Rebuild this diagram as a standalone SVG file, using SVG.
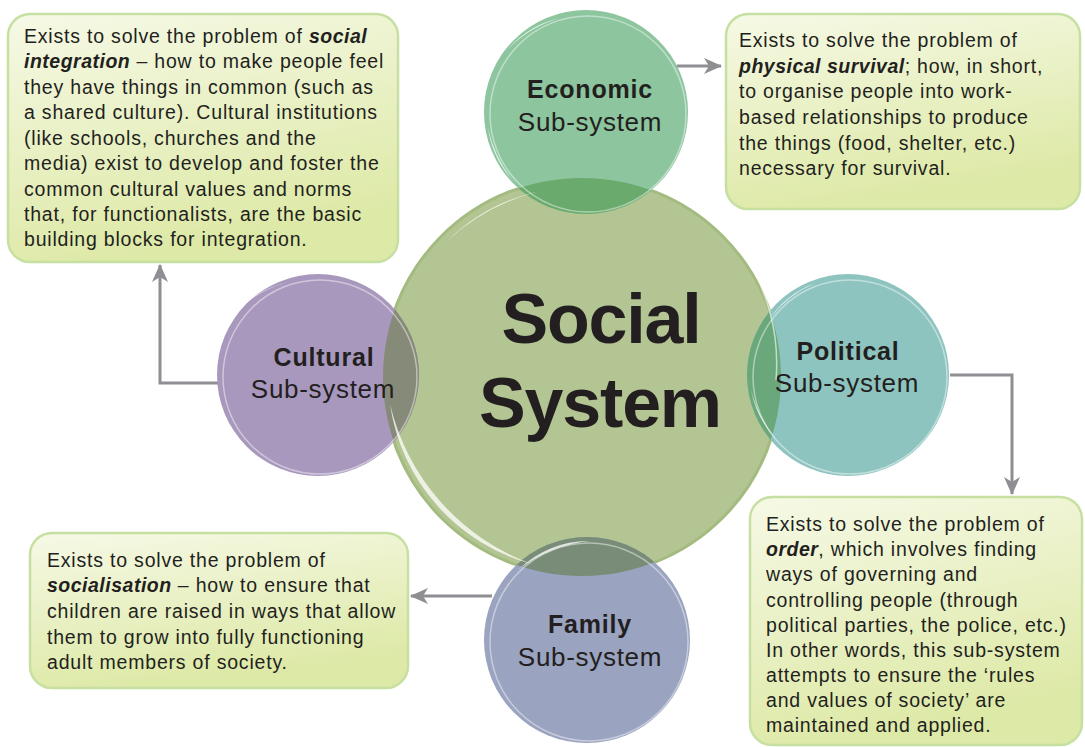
<svg xmlns="http://www.w3.org/2000/svg" width="1085" height="747" viewBox="0 0 1085 747">
<defs>
<style>
.box{stroke:#c6e0a2;stroke-width:2.5;fill:url(#bg)}
.t{font-family:"Liberation Sans",Arial,sans-serif;font-size:19.5px;letter-spacing:0.8px;fill:#231f20}
.bi{font-weight:bold;font-style:italic;letter-spacing:0.5px}
.lb{font-family:"Liberation Sans",Arial,sans-serif;font-size:25px;font-weight:bold;fill:#231f20;text-anchor:middle;letter-spacing:0.8px}
.ls{font-family:"Liberation Sans",Arial,sans-serif;font-size:26px;fill:#231f20;text-anchor:middle;letter-spacing:0.7px}
.big{font-family:"Liberation Sans",Arial,sans-serif;font-size:70px;font-weight:bold;fill:#231f20;text-anchor:middle;letter-spacing:-1.2px}
.con{fill:none;stroke:#8e8e93;stroke-width:3}
.hl{fill:#ffffff;opacity:0.75}
.ring{fill:none;stroke:#ffffff;stroke-width:1.5;opacity:0.45}
</style>
<linearGradient id="bg" x1="0" y1="0" x2="0.3" y2="1">
<stop offset="0" stop-color="#f6f9e6"/>
<stop offset="1" stop-color="#dde9a6"/>
</linearGradient>
<clipPath id="cc"><circle cx="582" cy="377" r="199"/></clipPath>
<marker id="ah" markerUnits="userSpaceOnUse" markerWidth="20" markerHeight="16" refX="17" refY="8" orient="auto">
<path d="M0,0 L18,8 L0,16 L5,8 z" fill="#8e8e93"/>
</marker>
</defs>

<g id="connectors">
<path class="con" d="M677,66 L721,66" marker-end="url(#ah)"/>
<path class="con" d="M218,383 L160,383 L160,265" marker-end="url(#ah)"/>
<path class="con" d="M950,375 L1012,375 L1012,494" marker-end="url(#ah)"/>
<path class="con" d="M492,596 L411,596" marker-end="url(#ah)"/>
</g>

<g id="social-system">
<circle cx="582" cy="377" r="199" fill="#b3c592" stroke="#a4bb80" stroke-width="3"/>
</g>

<g id="economic">
<circle cx="586" cy="112" r="102" fill="#8cc59e"/>
<circle cx="586" cy="112" r="102" fill="#6aaa6c" clip-path="url(#cc)"/>
<circle cx="588" cy="114" r="98" class="ring"/>
<path class="hl" d="M507,50 A98,98 0 0 1 560,18 A120,120 0 0 0 507,50 Z"/>
<path class="hl" d="M488,128 A99,99 0 0 0 514,182 A130,130 0 0 1 488,128 Z"/>
<text class="lb" x="590" y="98">Economic</text>
<text class="ls" x="590" y="131">Sub-system</text>
</g>

<g id="cultural">
<circle cx="318" cy="375" r="101" fill="#a898bd"/>
<circle cx="318" cy="375" r="101" fill="#868a78" clip-path="url(#cc)"/>
<circle cx="320" cy="377" r="97" class="ring"/>
<path class="hl" d="M242,306 A98,98 0 0 1 285,283 A120,120 0 0 0 242,306 Z"/>
<text class="lb" x="324" y="366">Cultural</text>
<text class="ls" x="323" y="398">Sub-system</text>
</g>

<g id="political">
<circle cx="848" cy="375" r="101" fill="#8ec4bf"/>
<circle cx="848" cy="375" r="101" fill="#6aa87c" clip-path="url(#cc)"/>
<circle cx="850" cy="377" r="97" class="ring"/>
<path class="hl" d="M770,318 A98,98 0 0 1 815,283 A120,120 0 0 0 770,318 Z"/>
<path class="hl" d="M751,390 A98,98 0 0 0 777,440 A130,130 0 0 1 751,390 Z"/>
<text class="lb" x="848" y="360">Political</text>
<text class="ls" x="847" y="392">Sub-system</text>
</g>

<g id="family">
<circle cx="587" cy="640" r="103" fill="#9aa3bf"/>
<circle cx="587" cy="640" r="103" fill="#788c78" clip-path="url(#cc)"/>
<circle cx="589" cy="642" r="99" class="ring"/>
<path class="hl" d="M518,570 A99,99 0 0 1 590,541 A140,140 0 0 0 518,570 Z"/>
<text class="lb" x="590" y="633">Family</text>
<text class="ls" x="590" y="666">Sub-system</text>
</g>

<g id="social-highlights">
<path class="hl" d="M390,404 A194,194 0 0 0 532,564 A225,225 0 0 1 390,404 Z"/>
<path class="hl" d="M447,241 A190,190 0 0 1 540,191 A215,215 0 0 0 447,241 Z"/>
<path d="M741,250 A198,198 0 0 1 776,380" fill="none" stroke="#ffffff" stroke-width="1.5" opacity="0.6"/>
<text class="big" x="601" y="343">Social</text>
<text class="big" x="600" y="427">System</text>
</g>

<g id="box-cultural">
<rect class="box" x="8" y="14" width="390" height="248" rx="22"/>
<text class="t" x="24" y="43">Exists to solve the problem of <tspan class="bi">social</tspan></text>
<text class="t" x="24" y="68"><tspan class="bi">integration</tspan> – how to make people feel</text>
<text class="t" x="24" y="94">they have things in common (such as</text>
<text class="t" x="24" y="119">a shared culture). Cultural institutions</text>
<text class="t" x="24" y="145">(like schools, churches and the</text>
<text class="t" x="24" y="170">media) exist to develop and foster the</text>
<text class="t" x="24" y="196">common cultural values and norms</text>
<text class="t" x="24" y="221">that, for functionalists, are the basic</text>
<text class="t" x="24" y="246">building blocks for integration.</text>
</g>

<g id="box-economic">
<rect class="box" x="726" y="14" width="354" height="195" rx="22"/>
<text class="t" x="739" y="47">Exists to solve the problem of</text>
<text class="t" x="739" y="73"><tspan class="bi">physical survival</tspan>; how, in short,</text>
<text class="t" x="739" y="98">to organise people into work-</text>
<text class="t" x="739" y="124">based relationships to produce</text>
<text class="t" x="739" y="150">the things (food, shelter, etc.)</text>
<text class="t" x="739" y="175">necessary for survival.</text>
</g>

<g id="box-political">
<rect class="box" x="750" y="497" width="332" height="248" rx="22"/>
<text class="t" x="766" y="531">Exists to solve the problem of</text>
<text class="t" x="766" y="556"><tspan class="bi">order</tspan>, which involves finding</text>
<text class="t" x="766" y="581">ways of governing and</text>
<text class="t" x="766" y="607">controlling people (through</text>
<text class="t" x="766" y="632">political parties, the police, etc.)</text>
<text class="t" x="766" y="657">In other words, this sub-system</text>
<text class="t" x="766" y="682">attempts to ensure the ‘rules</text>
<text class="t" x="766" y="707">and values of society’ are</text>
<text class="t" x="766" y="732">maintained and applied.</text>
</g>

<g id="box-family">
<rect class="box" x="30" y="533" width="378" height="155" rx="22"/>
<text class="t" x="47" y="567">Exists to solve the problem of</text>
<text class="t" x="47" y="592"><tspan class="bi">socialisation</tspan> – how to ensure that</text>
<text class="t" x="47" y="618">children are raised in ways that allow</text>
<text class="t" x="47" y="644">them to grow into fully functioning</text>
<text class="t" x="47" y="669">adult members of society.</text>
</g>
</svg>
